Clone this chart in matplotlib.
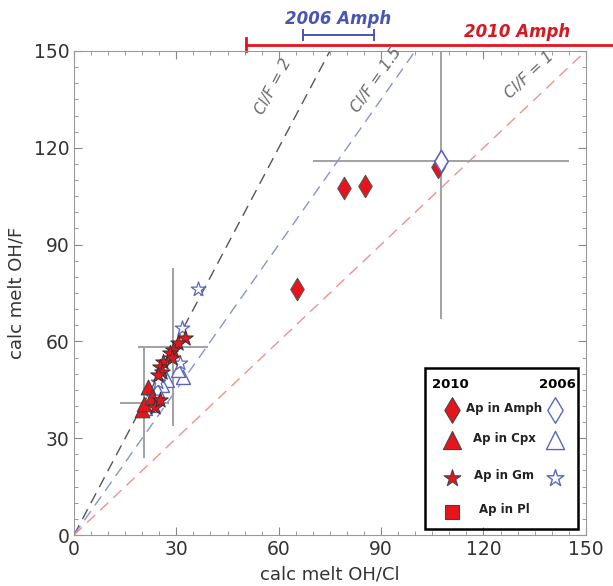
import math
import matplotlib.pyplot as plt
from matplotlib.patches import Rectangle

# ratio lines Cl/F = (OH/F)/(OH/Cl)
ratios = [2, 1.5, 1]
ratio_colors = ['#555555', '#8a92d2', '#f29090']
ratio_labels = ['Cl/F = 2', 'Cl/F = 1.5', 'Cl/F = 1']
ratio_label_pos = [(58.5, 139.0), (88.5, 141.0), (133.5, 142.5)]

# 2010 samples (red, filled)
amph10_x = [65.3, 79.1, 85.3, 106.6]
amph10_y = [76.2, 107.5, 108.2, 114.0]
cpx10_x = [19.8, 20.6, 21.8, 22.8]
cpx10_y = [38.7, 40.5, 46.0, 42.9]
gm10_x = [32.5, 30.6, 29.1, 28.1, 28.6, 26.2, 25.2, 25.7, 24.7, 23.7, 25.2]
gm10_y = [61.0, 59.4, 57.3, 56.3, 54.8, 53.7, 52.2, 50.6, 49.6, 39.8, 41.8]

# 2006 samples (blue, open)
amph06_x = [107.5]
amph06_y = [115.8]
cpx06_x = [32.0, 30.6, 27.2, 25.7, 24.2, 22.3, 20.8]
cpx06_y = [49.1, 51.1, 48.0, 46.5, 44.9, 40.3, 39.3]
gm06_x = [36.3, 31.7, 31.1, 24.7, 23.2]
gm06_y = [76.2, 64.0, 53.2, 47.5, 42.9]

# error bars: x, y, xerr, yerr
err_x = [107.5, 29.1, 20.6]
err_y = [115.8, 58.4, 41.0]
err_xe = [37.5, 10.2, 7.2]
err_ye = [49.0, 24.5, 17.0]

# amphibole ranges shown above the plot
range10 = (50.5, 160)
range06 = (67.0, 88.0)

red = '#e8141c'
blue = '#5c66bd'
grey = '#9a9a9a'

fig = plt.figure(figsize=(6.13, 5.86), dpi=100)
ax = fig.add_axes([0.1207, 0.087, 0.835, 0.826])

xs = [0, 150]
for r, c in zip(ratios, ratio_colors):
    ax.plot(xs, [v * r for v in xs], ls=(0, (8, 5)), color=c, lw=1.0, zorder=1)

for (lx, ly), lab, r in zip(ratio_label_pos, ratio_labels, ratios):
    ang = ax.transData.transform_angles([math.degrees(math.atan(r))], [[lx, ly]])[0]
    ax.text(lx, ly, lab, rotation=ang, rotation_mode='anchor', ha='center', va='center',
            color='#6a6a6a', fontsize=11, style='italic')

ax.errorbar(err_x, err_y, xerr=err_xe, yerr=err_ye, fmt='none', ecolor=grey,
            elinewidth=1.3, capsize=0, zorder=2)

ax.scatter(amph10_x, amph10_y, marker='d', s=130, c=red, edgecolors='#555555', lw=0.8, zorder=4)
ax.scatter(amph06_x, amph06_y, marker='d', s=130, c='white', edgecolors=blue, lw=1.2, zorder=5)
ax.scatter(cpx06_x, cpx06_y, marker='^', s=100, facecolors='white', edgecolors=blue, lw=1.0, zorder=3)
ax.scatter(gm06_x, gm06_y, marker='*', s=120, facecolors='white', edgecolors=blue, lw=0.9, zorder=3)
ax.scatter(cpx10_x, cpx10_y, marker='^', s=110, c=red, edgecolors='#444444', lw=0.8, zorder=4)
ax.scatter(gm10_x, gm10_y, marker='*', s=140, c=red, edgecolors='#333333', lw=0.7, zorder=4)

# ranges above the frame
ax.plot(range10, [152, 152], color=red, lw=2, clip_on=False)
ax.plot([range10[0]] * 2, [150, 154], color=red, lw=2, clip_on=False)
ax.plot(range06, [155, 155], color='#4a56b0', lw=1.4, clip_on=False)
for xv in range06:
    ax.plot([xv, xv], [153.5, 156.5], color='#4a56b0', lw=1.4, clip_on=False)
ax.text(130, 155.8, '2010 Amph', color='#d61820', fontsize=12, fontweight='bold',
        style='italic', ha='center', va='center')
ax.text(77.5, 160, '2006 Amph', color='#4a56b0', fontsize=12, fontweight='bold',
        style='italic', ha='center', va='center')

ax.set_xlim(0, 150)
ax.set_ylim(0, 150)
ax.set_xticks(range(0, 151, 30))
ax.set_yticks(range(0, 151, 30))
ax.set_xticks(range(0, 151, 5), minor=True)
ax.set_yticks(range(0, 151, 5), minor=True)
ax.tick_params(which='both', direction='in', top=True, right=True, colors='#888888',
               labelcolor='#333333', labelsize=13.5)
ax.tick_params(which='major', length=6)
ax.tick_params(which='minor', length=3)
for s in ax.spines.values():
    s.set_color('#999999')
ax.set_xlabel('calc melt OH/Cl', fontsize=13, color='#333333', labelpad=5)
ax.set_ylabel('calc melt OH/F', fontsize=13, color='#333333', labelpad=6)

# hand built legend box
ax.add_patch(Rectangle((0.685, 0.013), 0.3, 0.332, transform=ax.transAxes, fill=False,
                       lw=1.8, edgecolor='black', zorder=6))
ax.text(0.735, 0.311, '2010', transform=ax.transAxes, fontsize=9.5, fontweight='bold',
        ha='center', va='center', zorder=7)
ax.text(0.945, 0.311, '2006', transform=ax.transAxes, fontsize=9.5, fontweight='bold',
        ha='center', va='center', zorder=7)
leg_rows = [('Ap in Amph', 'd', 170, 0.258, True),
            ('Ap in Cpx', '^', 170, 0.196, True),
            ('Ap in Gm', '*', 160, 0.118, True),
            ('Ap in Pl', 's', 90, 0.048, False)]
for lab, m, sz, yy, has06 in leg_rows:
    ax.scatter([0.738], [yy], marker=m, s=sz, c=red, edgecolors='#444444', lw=0.8,
               transform=ax.transAxes, zorder=7, clip_on=False)
    ax.text(0.84, yy + 0.004, lab, transform=ax.transAxes, fontsize=8.5, fontweight='bold',
            ha='center', va='center', color='#222222', zorder=7)
    if has06:
        ax.scatter([0.94], [yy], marker=m, s=sz, facecolors='white', edgecolors=blue, lw=1.0,
                   transform=ax.transAxes, zorder=7, clip_on=False)

fig.savefig('out.png', dpi=100)
